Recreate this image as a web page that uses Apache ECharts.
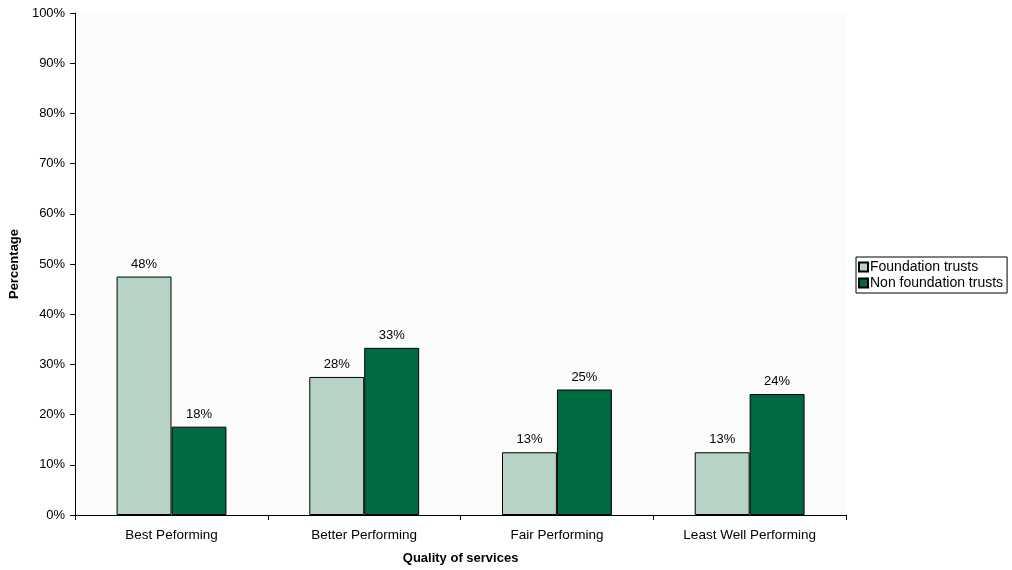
<!DOCTYPE html>
<html><head><meta charset="utf-8">
<script src="https://cdn.jsdelivr.net/npm/echarts@6/dist/echarts.min.js"></script>
<style>html,body{margin:0;padding:0;background:#fff}#c{width:1012px;height:570px}</style>
</head><body><div id="c"></div>
<script>
const categories = ['Best Peforming', 'Better Performing', 'Fair Performing', 'Least Well Performing'];
const foundation = [47.5, 27.5, 12.5, 12.5];
const nonFoundation = [17.6, 33.3, 25.0, 24.1];
const seriesNames = ['Foundation trusts', 'Non foundation trusts'];
const yTicks = [0, 10, 20, 30, 40, 50, 60, 70, 80, 90, 100];

const chart = echarts.init(document.getElementById('c'));
const font = 'Liberation Sans, Arial, sans-serif';
const lbl = {show: true, position: 'top', distance: 6, color: '#000', fontFamily: font, fontSize: 13,
  formatter: p => Math.round(p.value) + '%'};
chart.setOption({
  animation: false,
  textStyle: {fontFamily: font},
  grid: {left: 75, right: 166, top: 13, bottom: 55, backgroundColor: '#fcfcfc', show: true, borderWidth: 0},
  legend: {
    orient: 'vertical', left: 856, top: 257, itemWidth: 9, itemHeight: 9, itemGap: 2,
    padding: [3, 4, 3, 2], borderColor: '#000', borderWidth: 1, backgroundColor: '#fff',
    textStyle: {fontFamily: font, fontSize: 14, color: '#000', padding: [0, 0, 0, -3]},
    data: seriesNames.map(n => ({name: n, icon: 'rect'}))
  },
  xAxis: {
    type: 'category', data: categories,
    name: 'Quality of services', nameLocation: 'middle', nameGap: 37,
    nameTextStyle: {fontWeight: 'bold', fontSize: 13, color: '#000', fontFamily: font},
    axisLine: {lineStyle: {color: '#000'}},
    axisTick: {show: true, length: 5, lineStyle: {color: '#000'}},
    axisLabel: {color: '#000', fontSize: 13.5, margin: 13, fontFamily: font}
  },
  yAxis: {
    type: 'value', min: 0, max: 100, interval: 10,
    name: 'Percentage', nameLocation: 'middle', nameGap: 52, nameRotate: 90,
    nameTextStyle: {fontWeight: 'bold', fontSize: 13, color: '#000', fontFamily: font},
    axisLine: {show: true, lineStyle: {color: '#000'}},
    axisTick: {show: true, length: 5, lineStyle: {color: '#000'}},
    splitLine: {show: false},
    axisLabel: {color: '#000', fontSize: 13, margin: 10, fontFamily: font,
      formatter: v => yTicks.includes(v) ? v + '%' : ''}
  },
  series: [
    {name: seriesNames[0], type: 'bar', data: foundation, barGap: '0%', barCategoryGap: '43%',
      itemStyle: {color: '#b7d3c6', borderColor: '#000', borderWidth: 1}, label: lbl},
    {name: seriesNames[1], type: 'bar', data: nonFoundation,
      itemStyle: {color: '#006a40', borderColor: '#000', borderWidth: 1}, label: lbl}
  ]
});
</script></body></html>
